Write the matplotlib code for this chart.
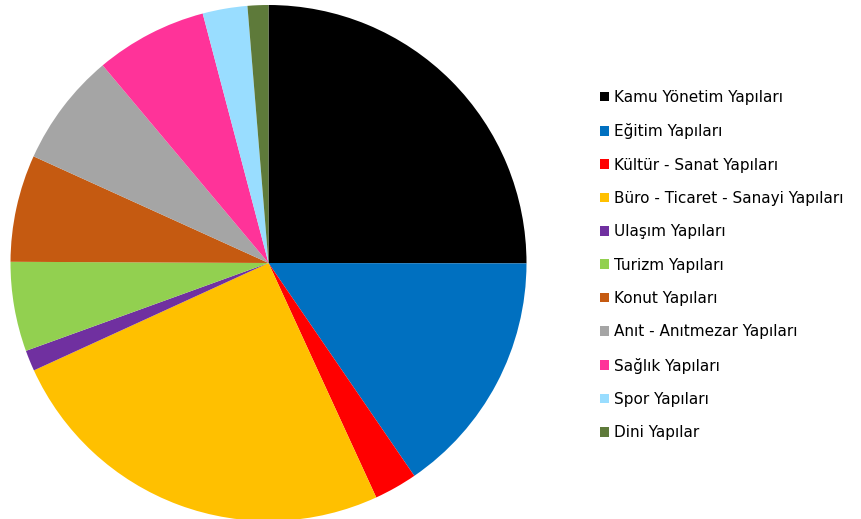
import matplotlib.pyplot as plt

# Category names and shares (percent), clockwise from the top
labels = ['Kamu Yönetim Yapıları', 'Eğitim Yapıları', 'Kültür - Sanat Yapıları',
          'Büro - Ticaret - Sanayi Yapıları', 'Ulaşım Yapıları', 'Turizm Yapıları',
          'Konut Yapıları', 'Anıt - Anıtmezar Yapıları', 'Sağlık Yapıları',
          'Spor Yapıları', 'Dini Yapılar']
shares = [25.0, 15.4, 2.7, 25.0, 1.3, 5.6, 6.7, 7.1, 7.0, 2.8, 1.3]
colors = ['#000000', '#0070C0', '#FF0000', '#FFC000', '#7030A0', '#92D050',
          '#C55A11', '#A5A5A5', '#FF3399', '#99DDFF', '#5E7A3A']

fig = plt.figure(figsize=(8.61, 5.19), dpi=100)

# Pie axes: centre near (268, 263) px, radius about 258 px
ax = fig.add_axes([10.5 / 861, (519 - 263 - 258) / 519, 516 / 861, 516 / 519])
wedges, _ = ax.pie(shares, colors=colors, startangle=90, counterclock=False,
                   radius=1.0, wedgeprops=dict(linewidth=0))
ax.set_xlim(-1, 1)
ax.set_ylim(-1, 1)
ax.set_aspect('equal')
ax.axis('off')

# Legend on the right
fig.legend(wedges, labels, loc='upper left', bbox_to_anchor=(600 / 861, 1 - 90 / 519),
           frameon=False, fontsize=11, handlelength=0.6, handleheight=0.6,
           handletextpad=0.3, labelspacing=1.2, borderpad=0, borderaxespad=0)

fig.savefig('out.png', dpi=100)
